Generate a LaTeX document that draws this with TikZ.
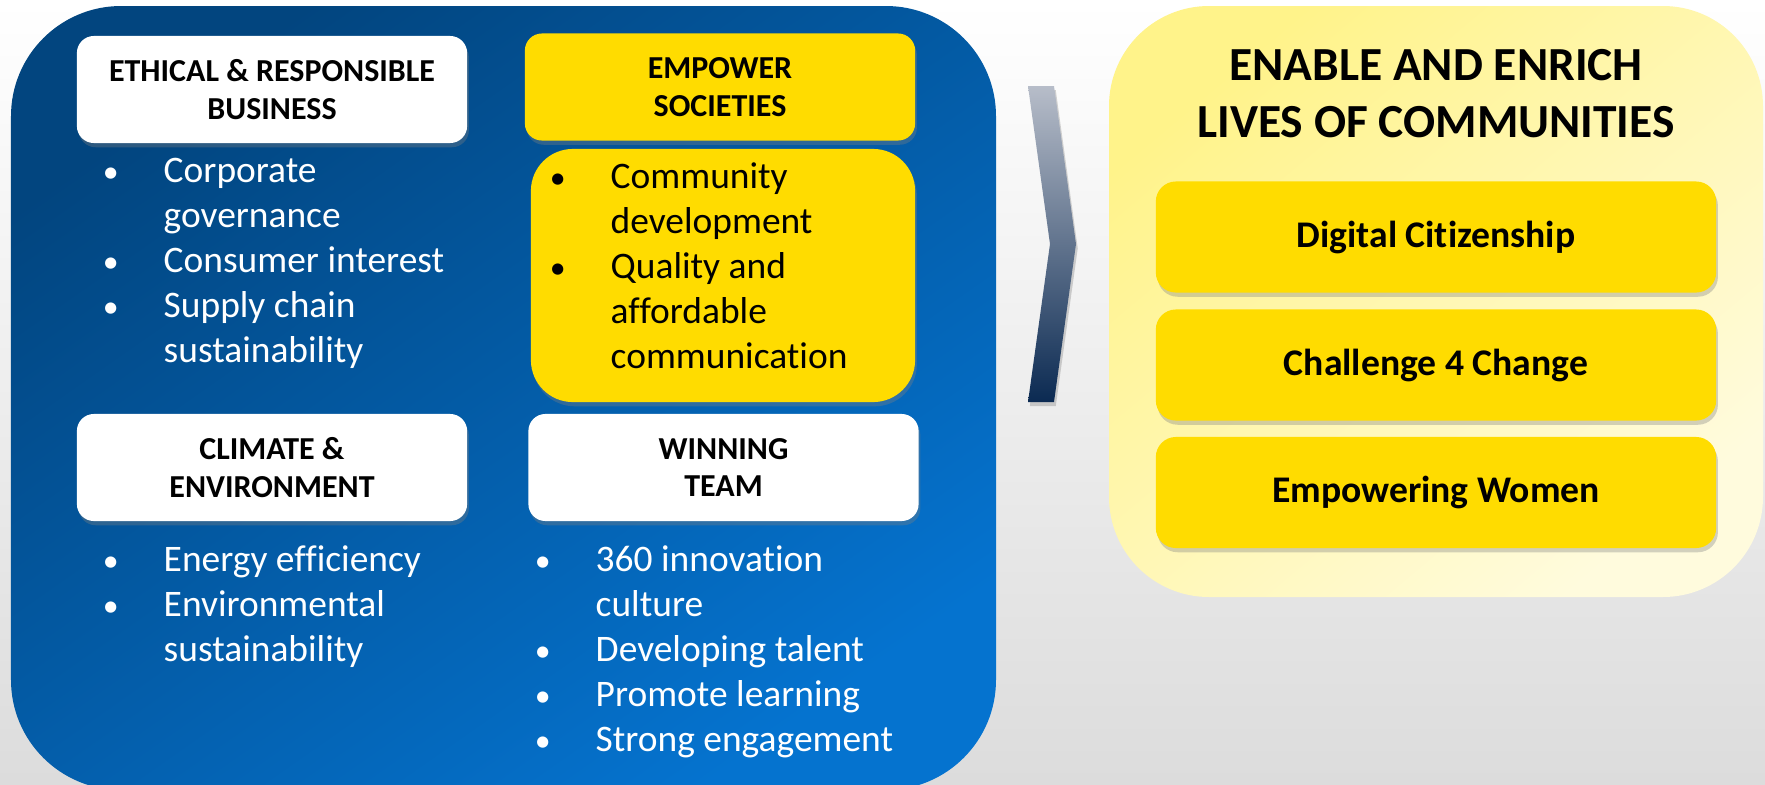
\documentclass[tikz,border=0pt]{standalone}
\usepackage{fontspec}
\setmainfont{Carlito}[Ligatures=NoCommon]
\usetikzlibrary{shadows}

\definecolor{bluetop}{HTML}{02457F}
\definecolor{bluebot}{HTML}{0573CF}
\definecolor{gold}{HTML}{FFDC00}
\definecolor{paletop}{HTML}{FFF38A}
\definecolor{palebot}{HTML}{FFFBDD}
\definecolor{greybot}{HTML}{DCDCDC}
\definecolor{chevtop}{HTML}{B7BDC9}
\definecolor{chevbot}{HTML}{0B2A52}

\newcommand{\bul}{\makebox[0pt]{\scalebox{0.85}{\textbullet}}}

\tikzset{
  head/.style={rounded corners=0.17cm, minimum width=3.9cm, minimum height=1.07cm,
    inner sep=0pt, align=center, font=\fontsize{9.1}{10.8}\selectfont\bfseries},
  blist/.style={inner sep=0pt, anchor=base west, font=\fontsize{10.65}{12.8}\selectfont},
  softshadow/.style={drop shadow={opacity=0.35, shadow xshift=0.5pt, shadow yshift=-1.2pt}},
  pillar/.style={fill=gold, rounded corners=0.2cm, minimum width=5.6cm, minimum height=1.11cm,
    font=\fontsize{10.7}{12}\selectfont\bfseries, softshadow},
}

\begin{document}
\begin{tikzpicture}[x=0.01cm, y=-0.01cm]
\useasboundingbox (0,0) rectangle (1765,784);
\shade[top color=white, bottom color=greybot] (0,0) rectangle (1765,784);

% blue panel
\shade[rounded corners=1.1cm, top color=bluetop, bottom color=bluebot, shading angle=35]
  (11,6) rectangle (996,790);

\node[head, fill=white, softshadow] (ethhead) at (272,89.5) {ETHICAL \& RESPONSIBLE\\BUSINESS};
\node[head, fill=gold, softshadow] (emphead) at (720,87) {EMPOWER\\SOCIETIES};
\node[fill=gold, rounded corners=0.42cm, minimum width=3.84cm, minimum height=2.53cm,
  softshadow] (empbox) at (723,275.5) {};
\node[head, fill=white, softshadow] (climhead) at (272,467.5) {CLIMATE \&\\ENVIRONMENT};
\node[head, fill=white, softshadow] (winhead) at (723.5,467.5) {WINNING\\TEAM};

\node[blist, text=white] (ethlist) at (110,182) {\begin{tabular}[t]{@{}l@{\hspace{0.53cm}}l@{}}
  \bul & Corporate\\
       & governance\\
  \bul & Consumer interest\\
  \bul & Supply chain\\
       & sustainability
\end{tabular}};
\node[blist, text=black] (emplist) at (557,188) {\begin{tabular}[t]{@{}l@{\hspace{0.53cm}}l@{}}
  \bul & Community\\
       & development\\
  \bul & Quality and\\
       & affordable\\
       & communication
\end{tabular}};
\node[blist, text=white] (climlist) at (110,571) {\begin{tabular}[t]{@{}l@{\hspace{0.53cm}}l@{}}
  \bul & Energy efficiency\\
  \bul & Environmental\\
       & sustainability
\end{tabular}};
\node[blist, text=white] (winlist) at (542,571) {\begin{tabular}[t]{@{}l@{\hspace{0.53cm}}l@{}}
  \bul & 360 innovation\\
       & culture\\
  \bul & Developing talent\\
  \bul & Promote learning\\
  \bul & Strong engagement
\end{tabular}};

% chevron
\path[top color=chevtop, bottom color=chevbot, softshadow]
  (1028,86) -- (1054,86) -- (1076,244) -- (1054,402) -- (1028,402) -- (1050,244) -- cycle;

% right panel
\shade[rounded corners=1cm, top color=paletop, bottom color=palebot, shading angle=40]
  (1109,6) rectangle (1763,597);

\node[font=\fontsize{13.5}{16.2}\selectfont\bfseries, align=center] (title) at (1436,93.5)
  {ENABLE AND ENRICH\\LIVES OF COMMUNITIES};

\node[pillar] (digital) at (1436,237) {Digital Citizenship};
\node[pillar] (challenge) at (1436,365) {Challenge 4 Change};
\node[pillar] (women) at (1436,492.5) {Empowering Women};
\end{tikzpicture}
\end{document}
